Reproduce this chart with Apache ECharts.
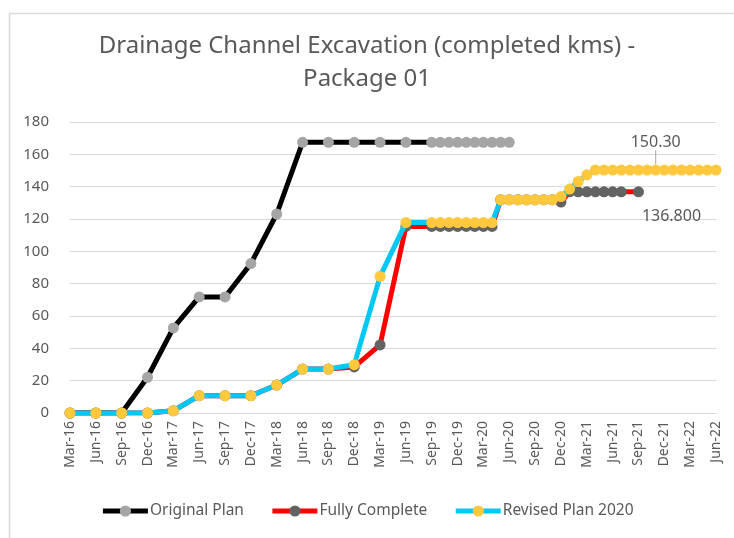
<!DOCTYPE html>
<html>
<head>
<meta charset="utf-8">
<script src="https://cdn.jsdelivr.net/npm/echarts@6/dist/echarts.min.js"></script>
<style>html,body{margin:0;padding:0;background:#fff}#c{width:734px;height:538px}</style>
</head>
<body>
<div id="c"></div>
<script>
// Monthly categories Mar-16 .. Jun-22 (labels shown quarterly)
var monthNames = ['Jan','Feb','Mar','Apr','May','Jun','Jul','Aug','Sep','Oct','Nov','Dec'];
var categories = [];
(function(){
  var y = 2016, m = 2;
  while (!(y === 2022 && m === 6)) {
    categories.push(monthNames[m] + '-' + String(y).slice(2));
    m++; if (m === 12) { m = 0; y++; }
  }
})();

var seriesNames = ['Original Plan', 'Fully Complete', 'Revised Plan 2020'];

var originalPlan = [
  ['Mar-16',0],['Jun-16',0],['Sep-16',0],['Dec-16',22.1],['Mar-17',52.6],['Jun-17',71.8],
  ['Sep-17',71.8],['Dec-17',92.4],['Mar-18',123.1],['Jun-18',167.4],['Sep-18',167.4],
  ['Dec-18',167.4],['Mar-19',167.4],['Jun-19',167.4],
  ['Sep-19',167.4],['Oct-19',167.4],['Nov-19',167.4],['Dec-19',167.4],['Jan-20',167.4],
  ['Feb-20',167.4],['Mar-20',167.4],['Apr-20',167.4],['May-20',167.4],['Jun-20',167.4]
];

var fullyComplete = [
  ['Mar-16',0],['Jun-16',0],['Sep-16',0],['Dec-16',0],['Mar-17',1.4],['Jun-17',10.7],
  ['Sep-17',10.7],['Dec-17',10.7],['Mar-18',17.3],['Jun-18',27.2],['Sep-18',27.2],
  ['Dec-18',28.5],['Mar-19',42.1],['Jun-19',115.4],
  ['Sep-19',115.4],['Oct-19',115.4],['Nov-19',115.4],['Dec-19',115.4],['Jan-20',115.4],
  ['Feb-20',115.4],['Mar-20',115.4],['Apr-20',115.4],
  ['May-20',131.9],['Jun-20',131.9],['Jul-20',131.9],['Aug-20',131.9],['Sep-20',131.9],
  ['Oct-20',131.9],['Nov-20',131.9],['Dec-20',130.5],
  ['Jan-21',136.8],['Feb-21',136.8],['Mar-21',136.8],['Apr-21',136.8],['May-21',136.8],
  ['Jun-21',136.8],['Jul-21',136.8],['Sep-21',136.8]
];

var revisedPlan = [
  ['Mar-16',0],['Jun-16',0],['Sep-16',0],['Dec-16',0],['Mar-17',1.4],['Jun-17',10.7],
  ['Sep-17',10.7],['Dec-17',10.7],['Mar-18',17.3],['Jun-18',27.2],['Sep-18',27.2],
  ['Dec-18',29.9],['Mar-19',84.5],['Jun-19',117.8],
  ['Sep-19',117.8],['Oct-19',117.8],['Nov-19',117.8],['Dec-19',117.8],['Jan-20',117.8],
  ['Feb-20',117.8],['Mar-20',117.8],['Apr-20',117.8],
  ['May-20',131.9],['Jun-20',131.9],['Jul-20',131.9],['Aug-20',131.9],['Sep-20',131.9],
  ['Oct-20',131.9],['Nov-20',131.9],['Dec-20',133.9],
  ['Jan-21',138.5],['Feb-21',143.2],['Mar-21',147.3],
  ['Apr-21',150.3],['May-21',150.3],['Jun-21',150.3],['Jul-21',150.3],['Aug-21',150.3],
  ['Sep-21',150.3],['Oct-21',150.3],['Nov-21',150.3],['Dec-21',150.3],['Jan-22',150.3],
  ['Feb-22',150.3],['Mar-22',150.3],['Apr-22',150.3],['May-22',150.3],['Jun-22',150.3]
];

var revisedLabelAt = 'Nov-21', revisedLabelText = '150.30';
var completeLabelAt = 'Sep-21', completeLabelText = '136.800';

var FONT = '"Noto Sans", "Open Sans", sans-serif';
var TXT = '#595959';

function withLabel(arr, at, text, labelCfg, extra) {
  return arr.map(function (d) {
    if (d[0] !== at) return d;
    var o = { value: d, label: Object.assign({ show: true, formatter: text, color: TXT, fontSize: 16, fontFamily: FONT }, labelCfg) };
    return Object.assign(o, extra || {});
  });
}

var chart = echarts.init(document.getElementById('c'), null, { renderer: 'canvas' });
chart.setOption({
  backgroundColor: '#ffffff',
  animation: false,
  graphic: [{
    type: 'rect', left: 7, top: 11, shape: { width: 760, height: 560 },
    style: { fill: 'none', stroke: '#d9d9d9', lineWidth: 1.5 }, silent: true, z: -1
  }],
  title: {
    text: 'Drainage Channel Excavation (completed kms) -\nPackage 01',
    left: 'center', top: 25,
    textStyle: { fontFamily: FONT, fontSize: 24, fontWeight: 'normal', color: TXT, lineHeight: 33 }
  },
  legend: {
    bottom: 14, left: 'center',
    itemWidth: 45, itemHeight: 14, itemGap: 26,
    lineStyle: { width: 5 },
    textStyle: { fontFamily: FONT, fontSize: 15.5, color: TXT, padding: [0, 0, 0, -3] },
    data: seriesNames
  },
  grid: { left: 70, right: 18, top: 122, bottom: 125, containLabel: false },
  xAxis: {
    type: 'category', data: categories, boundaryGap: false,
    axisLine: { lineStyle: { color: '#d9d9d9', width: 1 } },
    axisTick: { show: false },
    axisLabel: { interval: 2, rotate: 90, color: TXT, fontFamily: FONT, fontSize: 14, margin: 8 }
  },
  yAxis: {
    type: 'value', min: 0, max: 180, interval: 20,
    axisLine: { show: false }, axisTick: { show: false },
    splitLine: { lineStyle: { color: '#d9d9d9', width: 1 } },
    axisLabel: { color: TXT, fontFamily: FONT, fontSize: 15, margin: 21 }
  },
  series: [
    {
      name: seriesNames[0], type: 'line', data: originalPlan,
      symbol: 'circle', symbolSize: 11, showAllSymbol: true,
      lineStyle: { color: '#000000', width: 5 },
      itemStyle: { color: '#a5a5a5' }, color: '#000000',
      z: 2
    },
    {
      name: seriesNames[1], type: 'line',
      data: withLabel(fullyComplete, completeLabelAt, completeLabelText, { position: 'inside', offset: [33, 25] }),
      symbol: 'circle', symbolSize: 11, showAllSymbol: true,
      lineStyle: { color: '#ff0000', width: 5 },
      itemStyle: { color: '#636363' }, color: '#ff0000',
      z: 3
    },
    {
      name: seriesNames[2], type: 'line',
      data: withLabel(revisedPlan, revisedLabelAt, revisedLabelText, { position: 'top', distance: 5 }),
      labelLayout: function (p) { return p.text === '150.30' ? { dy: -9, hideOverlap: false } : {}; },
      labelLine: { show: true, lineStyle: { color: '#a6a6a6', width: 1 } },
      symbol: 'circle', symbolSize: 11, showAllSymbol: true,
      lineStyle: { color: '#00c8f5', width: 5 },
      itemStyle: { color: '#ffc83d' }, color: '#00c8f5',
      z: 4
    }
  ]
});
</script>
</body>
</html>
